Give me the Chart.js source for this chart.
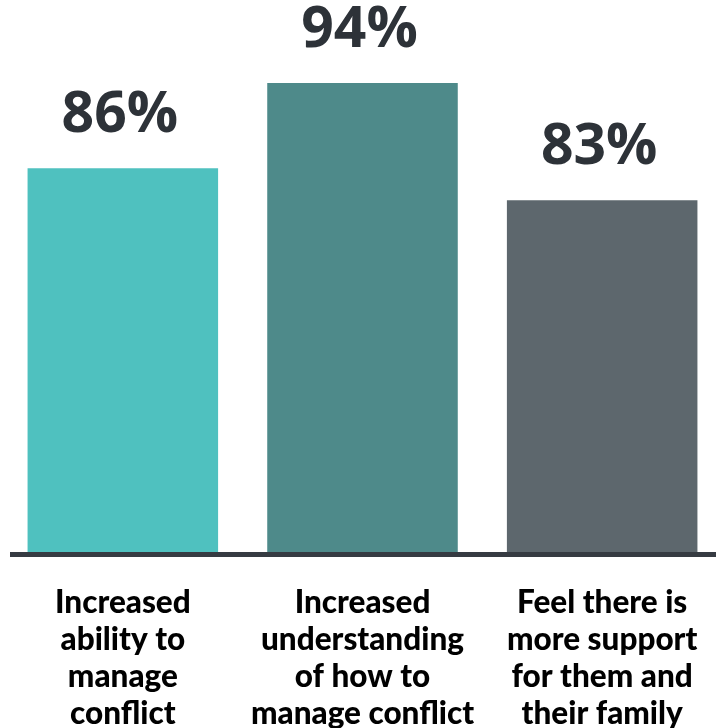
<!DOCTYPE html>
<html>
<head>
<meta charset="utf-8">
<script src="https://cdn.jsdelivr.net/npm/chart.js@4.4.1/dist/chart.umd.min.js"></script>
<style>
  html, body { margin: 0; padding: 0; background: #fff; overflow: hidden; }
  #wrap { width: 722px; height: 728px; }
</style>
</head>
<body>
<div id="wrap"><canvas id="chart" width="722" height="728"></canvas></div>
<script>
// labels and values
let categories = [
    ['Increased', 'ability to', 'manage', 'conflict'],
    ['Increased', 'understanding', 'of how to', 'manage conflict'],
    ['Feel there is', 'more support', 'for them and', 'their family']
];
let values = [86, 94, 83];
let barColors = ['#4fc1bf', '#4e8a8a', '#5d676d'];

// baseline line + percent labels above bars
let drawExtras = {
    id: 'drawExtras',
    afterDatasetsDraw(chart) {
        let ctx = chart.ctx;
        let y = chart.scales.y.getPixelForValue(50);
        ctx.save();
        ctx.fillStyle = '#363b42';
        ctx.fillRect(10, y, chart.width - 10, 5);

        ctx.fillStyle = '#2d3238';
        ctx.font = 'bold 57px "Open Sans"';
        ctx.textAlign = 'center';
        ctx.textBaseline = 'alphabetic';
        chart.getDatasetMeta(0).data.forEach((bar, i) => {
            ctx.fillText(values[i] + '%', bar.x - 3, bar.y - 36);
        });
        ctx.restore();
    }
};

const myChart = new Chart(document.getElementById('chart'), {
    type: 'bar',
    data: {
        labels: categories,
        datasets: [{
            data: values,
            backgroundColor: barColors,
            borderWidth: 0,
            categoryPercentage: 0.795,
            barPercentage: 1
        }]
    },
    options: {
        responsive: false,
        animation: false,
        layout: { padding: { top: 19, left: 3, right: 0, bottom: -36 } },
        plugins: { legend: { display: false }, tooltip: { enabled: false } },
        scales: {
            x: {
                grid: { display: false, drawTicks: false },
                border: { display: false },
                // labels may spill over the edges, don't shrink the plot for them
                afterFit: (scale) => { scale.paddingLeft = 0; scale.paddingRight = 0; },
                ticks: {
                    color: '#000',
                    padding: 32,
                    maxRotation: 0,
                    autoSkip: false,
                    font: { family: 'Lato', weight: '900', size: 31.5, lineHeight: '37px' }
                }
            },
            y: {
                display: false,
                min: 50,
                max: 100
            }
        }
    },
    plugins: [drawExtras]
});
</script>
</body>
</html>
